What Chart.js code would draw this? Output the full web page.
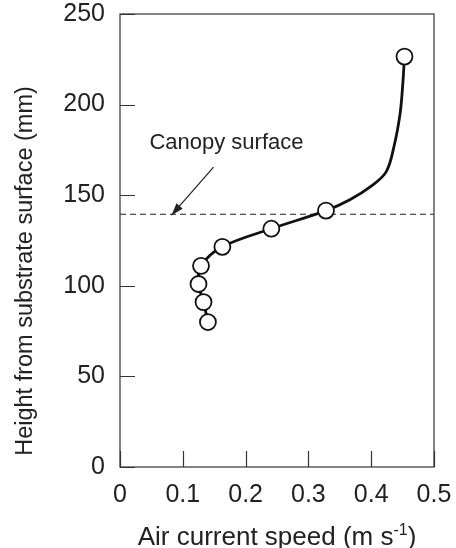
<!DOCTYPE html>
<html>
<head>
<meta charset="utf-8">
<script src="https://cdn.jsdelivr.net/npm/chart.js@4/dist/chart.umd.min.js"></script>
<style>
  html, body { margin: 0; padding: 0; background: #fff; }
  #wrap { width: 456px; height: 548px; }
</style>
</head>
<body>
<div id="wrap"><canvas id="chart" width="456" height="548"></canvas></div>
<script>
// ---- Data ----
const speedMeasured  = [0.140, 0.133, 0.125, 0.129, 0.163, 0.241, 0.328, 0.453];
const heightMeasured = [80, 91, 101, 111, 121.5, 131.5, 141.5, 226.5];

// fitted profile line
const curveSpeed  = [0.140, 0.133, 0.125, 0.129, 0.163, 0.241, 0.328, 0.366, 0.400, 0.424, 0.437, 0.446, 0.450, 0.453];
const curveHeight = [80, 91, 101, 111, 121.5, 131.5, 141.5, 147.5, 155, 163, 178, 195, 210, 226.5];

const xTicks = [0, 0.1, 0.2, 0.3, 0.4, 0.5];
const yTicks = [0, 50, 100, 150, 200, 250];

const CANOPY_HEIGHT = 139.5;
const CANOPY_LABEL = 'Canopy surface';

const FONT = '"Liberation Sans", Arial, Helvetica, sans-serif';
const INK = '#222';

const toXY = (xs, ys) => xs.map((x, i) => ({ x: x, y: ys[i] }));

// ---- Frame, inward ticks, titles, annotation ----
const framePlugin = {
    id: 'frame',
    beforeDatasetsDraw(chart) {
        const { ctx, chartArea: a, scales: { x, y } } = chart;
        ctx.save();
        // canopy dashed line
        const yc = y.getPixelForValue(CANOPY_HEIGHT);
        ctx.strokeStyle = INK;
        ctx.lineWidth = 1.2;
        ctx.setLineDash([6, 4]);
        ctx.beginPath();
        ctx.moveTo(a.left, yc);
        ctx.lineTo(a.right, yc);
        ctx.stroke();
        ctx.setLineDash([]);

        // arrow
        const x0 = x.getPixelForValue(0.149), y0 = y.getPixelForValue(165.5);
        const x1 = x.getPixelForValue(0.082), y1 = yc + 1;
        ctx.lineWidth = 1.2;
        ctx.beginPath();
        ctx.moveTo(x0, y0);
        ctx.lineTo(x1, y1);
        ctx.stroke();
        const ang = Math.atan2(y1 - y0, x1 - x0);
        const len = 13, wid = 0.32;
        ctx.fillStyle = INK;
        ctx.beginPath();
        ctx.moveTo(x1, y1);
        ctx.lineTo(x1 - len * Math.cos(ang - wid), y1 - len * Math.sin(ang - wid));
        ctx.lineTo(x1 - len * Math.cos(ang + wid), y1 - len * Math.sin(ang + wid));
        ctx.closePath();
        ctx.fill();

        // label
        ctx.font = '22px ' + FONT;
        ctx.textAlign = 'center';
        ctx.textBaseline = 'middle';
        ctx.fillText(CANOPY_LABEL, x.getPixelForValue(0.1695), y.getPixelForValue(179));
        ctx.restore();
    },
    afterDraw(chart) {
        const { ctx, chartArea: a, scales: { x, y } } = chart;
        ctx.save();
        ctx.strokeStyle = '#333';
        ctx.lineWidth = 1.2;
        ctx.strokeRect(a.left, a.top, a.right - a.left, a.bottom - a.top);

        ctx.beginPath();
        yTicks.forEach(v => {
            const py = Math.round(y.getPixelForValue(v)) + 0.5;
            ctx.moveTo(a.left, py);
            ctx.lineTo(a.left + 15, py);
        });
        xTicks.forEach(v => {
            const px = Math.round(x.getPixelForValue(v)) + 0.5;
            ctx.moveTo(px, a.bottom);
            ctx.lineTo(px, a.bottom - 16);
        });
        ctx.stroke();

        // x title with superscript
        ctx.fillStyle = INK;
        ctx.textBaseline = 'alphabetic';
        ctx.textAlign = 'left';
        const main = 'Air current speed (m s', sup = '-1', tail = ')';
        ctx.font = '26px ' + FONT;
        const wMain = ctx.measureText(main).width, wTail = ctx.measureText(tail).width;
        ctx.font = '16px ' + FONT;
        const wSup = ctx.measureText(sup).width;
        let tx = (a.left + a.right) / 2 - (wMain + wSup + wTail) / 2;
        const by = a.bottom + 78;
        ctx.font = '26px ' + FONT;
        ctx.fillText(main, tx, by);
        tx += wMain;
        ctx.font = '16px ' + FONT;
        ctx.fillText(sup, tx, by - 10);
        tx += wSup;
        ctx.font = '26px ' + FONT;
        ctx.fillText(tail, tx, by);

        // y title
        ctx.save();
        ctx.translate(32, 271);
        ctx.rotate(-Math.PI / 2);
        ctx.textAlign = 'center';
        ctx.font = '23.5px ' + FONT;
        ctx.fillText('Height from substrate surface (mm)', 0, 0);
        ctx.restore();
        ctx.restore();
    }
};

const ctx = document.getElementById('chart').getContext('2d');
new Chart(ctx, {
    type: 'scatter',
    data: {
        datasets: [
            {
                type: 'line',
                data: toXY(curveSpeed, curveHeight),
                borderColor: '#111',
                borderWidth: 2.8,
                pointRadius: 0,
                tension: 0.35,
                fill: false,
                order: 2
            },
            {
                data: toXY(speedMeasured, heightMeasured),
                pointRadius: 8,
                pointBackgroundColor: '#fff',
                pointBorderColor: '#111',
                pointBorderWidth: 1.8,
                order: 1
            }
        ]
    },
    options: {
        responsive: false,
        animation: false,
        layout: { padding: 0 },
        plugins: { legend: { display: false }, tooltip: { enabled: false } },
        scales: {
            x: {
                type: 'linear',
                min: 0, max: 0.5,
                afterBuildTicks: s => { s.ticks = xTicks.map(v => ({ value: v })); },
                afterFit: s => { s.height = 81; s.paddingLeft = 0; s.paddingRight = 22; },
                grid: { display: false, drawTicks: false },
                border: { display: false },
                ticks: { padding: 13, color: INK, font: { family: FONT, size: 25 } }
            },
            y: {
                type: 'linear',
                min: 0, max: 250,
                afterBuildTicks: s => { s.ticks = yTicks.map(v => ({ value: v })); },
                afterFit: s => { s.width = 120; s.paddingTop = 14; s.paddingBottom = 0; },
                grid: { display: false, drawTicks: false },
                border: { display: false },
                ticks: { padding: 15, color: INK, font: { family: FONT, size: 25 } }
            }
        }
    },
    plugins: [framePlugin]
});
</script>
</body>
</html>
